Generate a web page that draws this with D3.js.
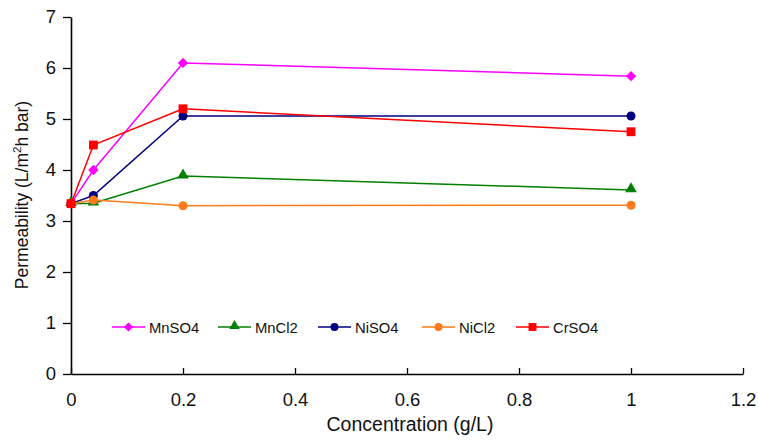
<!DOCTYPE html>
<html>
<head>
<meta charset="utf-8">
<script src="https://cdn.jsdelivr.net/npm/d3@7"></script>
<style>
  body { margin: 0; background: #fff; }
  svg { font-family: "Liberation Sans", Arial, sans-serif; }
</style>
</head>
<body>
<svg width="758" height="441"></svg>
<script>
var concentration = [0, 0.04, 0.2, 1];
var seriesNames = ["MnSO4", "MnCl2", "NiSO4", "NiCl2", "CrSO4"];
var mnso4 = [3.34, 4.0, 6.10, 5.84];
var mncl2 = [3.34, 3.35, 3.88, 3.61];
var niso4 = [3.34, 3.50, 5.06, 5.06];
var nicl2 = [3.34, 3.41, 3.30, 3.31];
var crso4 = [3.34, 4.49, 5.20, 4.75];
var xTicks = [0, 0.2, 0.4, 0.6, 0.8, 1, 1.2];
var yTicks = [0, 1, 2, 3, 4, 5, 6, 7];

function main() {
    var svg = d3.select("svg");
    var left = 71, right = 743, top = 17, bottom = 374;

    var xScale = d3.scaleLinear().domain([0, 1.2]).range([left, right]);
    var yScale = d3.scaleLinear().domain([0, 7]).range([bottom, top]);

    var styles = {
        MnSO4: { color: "#ff00ff", symbol: d3.symbolDiamond2, size: 68 },
        MnCl2: { color: "#008000", symbol: d3.symbolTriangle, size: 58 },
        NiSO4: { color: "#000080", symbol: d3.symbolCircle, size: 64 },
        NiCl2: { color: "#ff7a1a", symbol: d3.symbolCircle, size: 64 },
        CrSO4: { color: "#ff0000", symbol: d3.symbolSquare, size: 78 }
    };
    var values = { MnSO4: mnso4, MnCl2: mncl2, NiSO4: niso4, NiCl2: nicl2, CrSO4: crso4 };

    // axes
    var yAxis = svg.append("g")
        .attr("transform", "translate(" + left + ",0)")
        .call(d3.axisLeft(yScale).tickValues(yTicks).tickSize(8).tickSizeOuter(0).tickPadding(7)
            .tickFormat(function(d) { return d; }));
    var xAxis = svg.append("g")
        .attr("transform", "translate(0," + bottom + ")")
        .call(d3.axisBottom(xScale).tickValues(xTicks).tickSize(-6).tickSizeOuter(0).tickPadding(19)
            .tickFormat(function(d) { return d; }));
    [xAxis, yAxis].forEach(function(a) {
        a.selectAll("path.domain").attr("stroke", "#000").attr("stroke-width", 1.6);
        a.selectAll(".tick line").attr("stroke", "#000").attr("stroke-width", 1.3);
        a.selectAll(".tick text").attr("fill", "#111").attr("font-size", "18.5px")
            .attr("font-family", "Liberation Sans, Arial, sans-serif");
    });

    var line = d3.line()
        .x(function(d, i) { return xScale(concentration[i]); })
        .y(function(d) { return yScale(d); });

    seriesNames.forEach(function(name) {
        var st = styles[name];
        var g = svg.append("g");
        g.append("path")
            .datum(values[name])
            .attr("fill", "none")
            .attr("stroke", st.color)
            .attr("stroke-width", 1.5)
            .attr("d", line);
        g.selectAll("path.pt")
            .data(values[name])
            .enter()
            .append("path")
            .attr("class", "pt")
            .attr("d", d3.symbol().type(st.symbol).size(st.size))
            .attr("fill", st.color)
            .attr("transform", function(d, i) {
                var dy = st.symbol === d3.symbolTriangle ? -1 : 0;
                return "translate(" + xScale(concentration[i]) + "," + (yScale(d) + dy) + ")";
            });
    });

    // legend
    var legendX = [112, 218, 318, 422, 516];
    var legendY = 327;
    seriesNames.forEach(function(name, i) {
        var st = styles[name];
        var lg = svg.append("g").attr("transform", "translate(" + legendX[i] + "," + legendY + ")");
        lg.append("line").attr("x1", 0).attr("x2", 33).attr("y1", 0).attr("y2", 0)
            .attr("stroke", st.color).attr("stroke-width", 1.5);
        lg.append("path").attr("d", d3.symbol().type(st.symbol).size(st.size * 0.8))
            .attr("fill", st.color).attr("transform", "translate(16.5," + (st.symbol === d3.symbolTriangle ? -1 : 0) + ")");
        lg.append("text").attr("x", 37).attr("y", 5.5).attr("font-size", "14.8px")
            .attr("fill", "#111").text(name);
    });

    // axis titles
    svg.append("text")
        .attr("x", 410).attr("y", 431)
        .attr("text-anchor", "middle")
        .attr("font-size", "19.5px")
        .attr("fill", "#111")
        .text("Concentration (g/L)");

    var yt = svg.append("text")
        .attr("transform", "translate(28,195) rotate(-90)")
        .attr("text-anchor", "middle")
        .attr("font-size", "17.5px")
        .attr("fill", "#111");
    yt.append("tspan").text("Permeability (L/m");
    yt.append("tspan").attr("font-size", "11.5px").attr("dy", -7).text("2");
    yt.append("tspan").attr("dy", 7).text("h bar)");
}
main();
</script>
</body>
</html>
